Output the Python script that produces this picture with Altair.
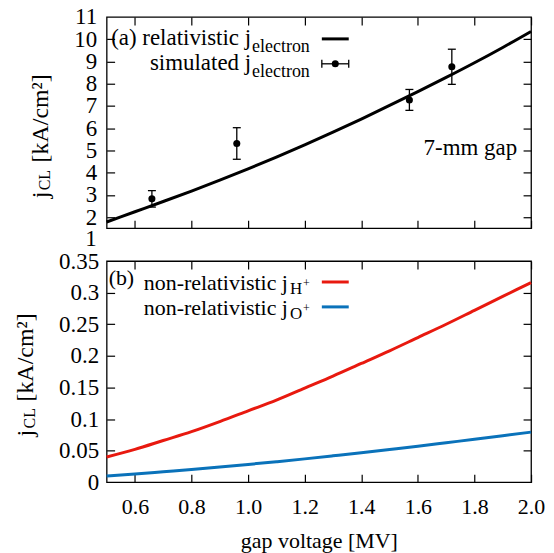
import altair as alt
import pandas as pd

# ---------------- data ----------------
volt = [0.5, 0.6, 0.7, 0.8, 0.9, 1.0, 1.1, 1.2, 1.3, 1.4, 1.5, 1.6, 1.7, 1.8, 1.9, 2.0]
j_rel = [1.78, 2.24, 2.70, 3.17, 3.66, 4.17, 4.70, 5.25, 5.82, 6.41, 7.02, 7.64, 8.28, 8.94, 9.63, 10.35]
sim_v = [0.66, 0.96, 1.57, 1.72]
sim_j = [2.82, 5.31, 7.27, 8.76]
sim_err = [0.37, 0.71, 0.47, 0.79]
j_h = [0.040, 0.052, 0.066, 0.080, 0.096, 0.113, 0.130, 0.149, 0.168, 0.188,
       0.208, 0.229, 0.250, 0.272, 0.294, 0.316]
j_o = [0.010, 0.0130, 0.0165, 0.0200, 0.0240, 0.0282, 0.0325, 0.0370, 0.0418, 0.0467,
       0.0518, 0.0570, 0.0625, 0.0680, 0.0736, 0.0793]

x_ticks = [0.6, 0.8, 1.0, 1.2, 1.4, 1.6, 1.8, 2.0]
top_y_ticks = [1, 2, 3, 4, 5, 6, 7, 8, 9, 10, 11]
bot_y_ticks = [0, 0.05, 0.1, 0.15, 0.2, 0.25, 0.3, 0.35]
x_domain = [0.5, 2.0]
top_y_domain = [1.5, 11]
bot_y_domain = [0, 0.35]

x_title = "gap voltage [MV]"
y_title_main = "j"
y_title_sub = "CL"
y_title_rest = "[kA/cm²]"
leg_a1 = "(a) relativistic j"
leg_a2 = "simulated j"
leg_a_sub = "electron"
gap_label = "7-mm gap"
leg_b = "(b)"
leg_b_text = "non-relativistic j"
leg_b_sub1 = "H"
leg_b_sub2 = "O"
leg_b_sup = "+"

# ---------------- styling ----------------
FONT = "Liberation Serif"
W, H1, H2 = 426, 212, 222
TICK = 8
RED = "#e8190f"
BLUE = "#0a72ba"

df_rel = pd.DataFrame({"v": volt, "j": j_rel})
df_sim = pd.DataFrame({"v": sim_v, "j": sim_j,
                       "lo": [a - b for a, b in zip(sim_j, sim_err)],
                       "hi": [a + b for a, b in zip(sim_j, sim_err)]})
df_ion = pd.DataFrame({"v": volt + volt, "j": j_h + j_o,
                       "ion": ["H"] * len(volt) + ["O"] * len(volt)})
df_one_label = pd.DataFrame({"t": [str(top_y_ticks[0])], "y": [top_y_ticks[0]]})
ONE = pd.DataFrame({"k": [0]})

xs = alt.Scale(domain=x_domain, nice=False, zero=False)
ys1 = alt.Scale(domain=top_y_domain, nice=False, zero=False)
ys2 = alt.Scale(domain=bot_y_domain, nice=False, zero=False)


def txt(s, x, y, size=22, align="left", angle=None):
    kw = dict(text=s, font=FONT, fontSize=size, align=align,
              baseline="alphabetic", color="black")
    if angle is not None:
        kw["angle"] = angle
    return alt.Chart(ONE).mark_text(**kw).encode(x=alt.value(x), y=alt.value(y))


def tick_axis(orient, offset, values):
    return alt.Axis(orient=orient, offset=offset, values=values, labels=False,
                    domain=False, grid=False, ticks=True, tickSize=TICK,
                    tickWidth=1.2, tickColor="black", title=None)


def ghost(df, yf, ys, xaxis=None, yaxis=None):
    return alt.Chart(df).mark_point(opacity=0).encode(
        x=alt.X("v:Q", scale=xs, axis=xaxis),
        y=alt.Y(yf, scale=ys, axis=yaxis))


# ---------------- top panel ----------------
top_labels = ghost(df_rel, "j:Q", ys1, yaxis=alt.Axis(
    orient="left", values=top_y_ticks[1:], format="d", ticks=False, domain=False,
    grid=False, labelFont=FONT, labelFontSize=23, labelColor="black",
    labelPadding=10, labelFlush=False, labelOverlap=False, title=None))
top_tl = ghost(df_rel, "j:Q", ys1, yaxis=tick_axis("right", -W, top_y_ticks[1:-1]))
top_tr = ghost(df_rel, "j:Q", ys1, yaxis=tick_axis("left", -W, top_y_ticks[1:-1]))
top_tb = ghost(df_rel, "j:Q", ys1, xaxis=tick_axis("top", -H1, x_ticks))
top_tt = ghost(df_rel, "j:Q", ys1, xaxis=tick_axis("bottom", -H1, x_ticks))

one_lbl = alt.Chart(df_one_label).mark_text(
    font=FONT, fontSize=23, align="right", baseline="middle", color="black"
).encode(x=alt.value(-10), y=alt.Y("y:Q", scale=ys1, axis=None), text="t:N")

rel_line = alt.Chart(df_rel).mark_line(color="black", strokeWidth=3, interpolate="monotone").encode(
    x=alt.X("v:Q", scale=xs, axis=None), y=alt.Y("j:Q", scale=ys1, axis=None))
err_rule = alt.Chart(df_sim).mark_rule(color="black", strokeWidth=1.3).encode(
    x=alt.X("v:Q", scale=xs, axis=None), y=alt.Y("lo:Q", scale=ys1, axis=None), y2="hi:Q")
cap_lo = alt.Chart(df_sim).mark_tick(color="black", orient="horizontal", size=8,
                                     thickness=1.3, opacity=1).encode(
    x=alt.X("v:Q", scale=xs, axis=None), y=alt.Y("lo:Q", scale=ys1, axis=None))
cap_hi = alt.Chart(df_sim).mark_tick(color="black", orient="horizontal", size=8,
                                     thickness=1.3, opacity=1).encode(
    x=alt.X("v:Q", scale=xs, axis=None), y=alt.Y("hi:Q", scale=ys1, axis=None))
pts = alt.Chart(df_sim).mark_circle(color="black", size=50, opacity=1).encode(
    x=alt.X("v:Q", scale=xs, axis=None), y=alt.Y("j:Q", scale=ys1, axis=None))

# legend (a)
la1 = txt(leg_a1, 145, 28, size=23, align="right")
la1s = txt(leg_a_sub, 146, 35, size=18)
la2 = txt(leg_a2, 145, 53, size=23, align="right")
la2s = txt(leg_a_sub, 146, 60, size=18)
samp_line = alt.Chart(ONE).mark_rule(color="black", strokeWidth=3).encode(
    x=alt.value(216), x2=alt.value(243), y=alt.value(22))
samp_err = alt.Chart(ONE).mark_rule(color="black", strokeWidth=1.3).encode(
    x=alt.value(216), x2=alt.value(243), y=alt.value(47))
samp_cap1 = alt.Chart(ONE).mark_rule(color="black", strokeWidth=1.3).encode(
    x=alt.value(216), y=alt.value(43), y2=alt.value(51))
samp_cap2 = alt.Chart(ONE).mark_rule(color="black", strokeWidth=1.3).encode(
    x=alt.value(243), y=alt.value(43), y2=alt.value(51))
samp_pt = alt.Chart(ONE).mark_circle(color="black", size=50, opacity=1).encode(
    x=alt.value(229.5), y=alt.value(47))
gap = txt(gap_label, 412, 139, size=23, align="right")

t_j = txt(y_title_main, -59, 182, size=24, angle=270)
t_cl = txt(y_title_sub, -57, 174, size=16, angle=270)
t_rest = txt(y_title_rest, -59, 146, size=24, angle=270)

top = alt.layer(
    top_labels, top_tl, top_tr, top_tb, top_tt, one_lbl,
    rel_line, err_rule, cap_lo, cap_hi, pts,
    la1, la1s, la2, la2s, samp_line, samp_err, samp_cap1, samp_cap2, samp_pt,
    gap, t_j, t_cl, t_rest,
).resolve_axis(x="independent", y="independent").properties(width=W, height=H1)

# ---------------- bottom panel ----------------
bot_labels = ghost(df_ion, "j:Q", ys2, yaxis=alt.Axis(
    orient="left", values=bot_y_ticks, format="~g", ticks=False, domain=False,
    grid=False, labelFont=FONT, labelFontSize=23, labelColor="black",
    labelPadding=8, labelFlush=False, labelOverlap=False, title=None))
bot_xlabels = ghost(df_ion, "j:Q", ys2, xaxis=alt.Axis(
    orient="bottom", values=x_ticks, format=".1f", ticks=False, domain=False,
    grid=False, labelFont=FONT, labelFontSize=22, labelColor="black",
    labelPadding=14, labelFlush=False, labelOverlap=False,
    title=x_title, titleFont=FONT, titleFontSize=22, titleFontWeight="normal",
    titleColor="black", titlePadding=13))
bot_tl = ghost(df_ion, "j:Q", ys2, yaxis=tick_axis("right", -W, bot_y_ticks[1:-1]))
bot_tr = ghost(df_ion, "j:Q", ys2, yaxis=tick_axis("left", -W, bot_y_ticks[1:-1]))
bot_tb = ghost(df_ion, "j:Q", ys2, xaxis=tick_axis("top", -H2, x_ticks))
bot_tt = ghost(df_ion, "j:Q", ys2, xaxis=tick_axis("bottom", -H2, x_ticks))

ion_lines = alt.Chart(df_ion).mark_line(strokeWidth=3, interpolate="monotone").encode(
    x=alt.X("v:Q", scale=xs, axis=None),
    y=alt.Y("j:Q", scale=ys2, axis=None),
    color=alt.Color("ion:N", scale=alt.Scale(domain=["H", "O"], range=[RED, BLUE]), legend=None))

lb = txt(leg_b, 2, 24, size=22)
lb1 = txt(leg_b_text, 182, 29, size=22, align="right")
lb1s = txt(leg_b_sub1, 184, 33, size=17)
lb1p = txt(leg_b_sup, 197, 26, size=12)
lb2 = txt(leg_b_text, 182, 54, size=22, align="right")
lb2s = txt(leg_b_sub2, 184, 58, size=17)
lb2p = txt(leg_b_sup, 197, 51, size=12)
samp_red = alt.Chart(ONE).mark_rule(color=RED, strokeWidth=3).encode(
    x=alt.value(216), x2=alt.value(243), y=alt.value(21))
samp_blue = alt.Chart(ONE).mark_rule(color=BLUE, strokeWidth=3).encode(
    x=alt.value(216), x2=alt.value(243), y=alt.value(46))

b_j = txt(y_title_main, -74, 176, size=24, angle=270)
b_cl = txt(y_title_sub, -72, 168, size=16, angle=270)
b_rest = txt(y_title_rest, -74, 141, size=24, angle=270)

bottom = alt.layer(
    bot_labels, bot_xlabels, bot_tl, bot_tr, bot_tb, bot_tt,
    ion_lines,
    lb, lb1, lb1s, lb1p, lb2, lb2s, lb2p, samp_red, samp_blue,
    b_j, b_cl, b_rest,
).resolve_axis(x="independent", y="independent").properties(width=W, height=H2)

chart = alt.vconcat(top, bottom, spacing=33, bounds="flush").properties(
    autosize=alt.AutoSizeParams(type="none"),
    padding={"left": 99, "top": 8, "right": 15, "bottom": 537},
).configure_view(stroke="black", strokeWidth=1.3)

chart.save("out.html", embed_options={"renderer": "svg", "actions": False})
